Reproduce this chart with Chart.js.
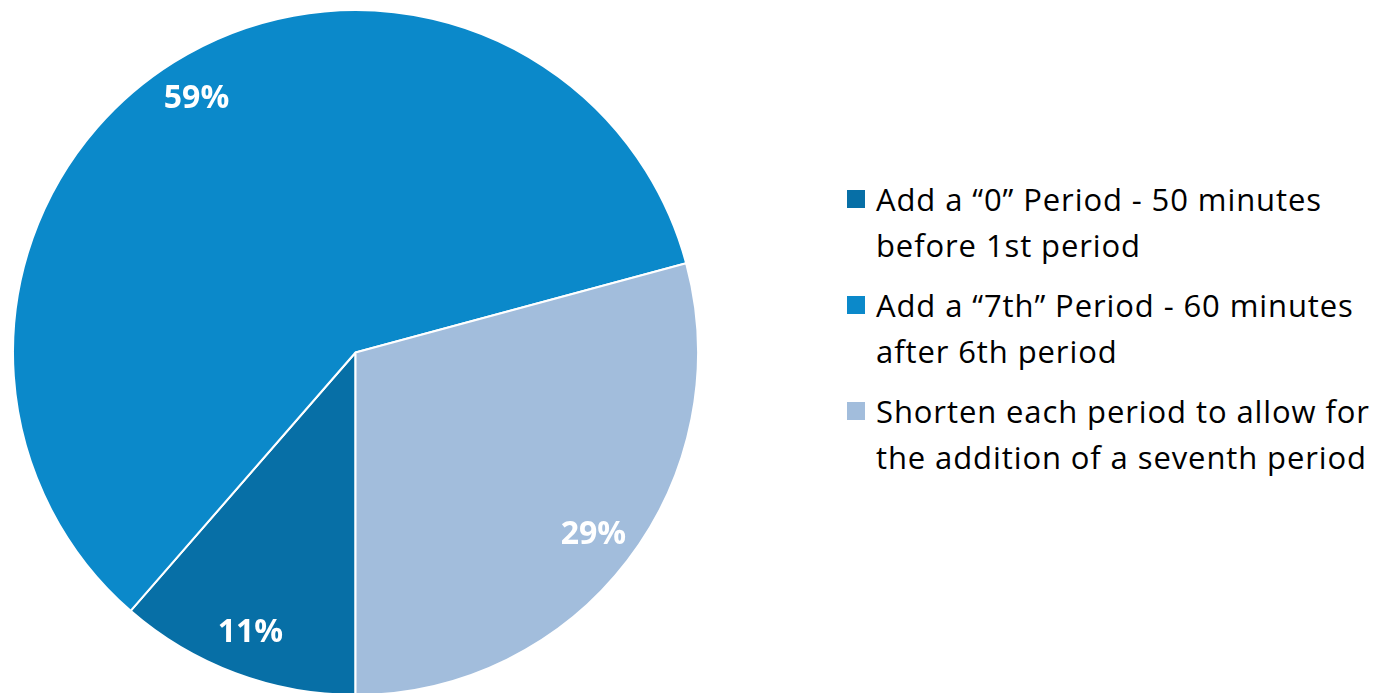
<!DOCTYPE html>
<html>
<head>
<meta charset="utf-8">
<script src="https://cdn.jsdelivr.net/npm/chart.js@4"></script>
<style>
    html, body { margin: 0; padding: 0; background: #fff; overflow: hidden; width: 1373px; height: 693px; }
    #pieBox { position: absolute; left: 12px; top: 9px; width: 687px; height: 687px; }
    #legend { position: absolute; left: 847px; top: 176px; font-family: "Open Sans", sans-serif; font-size: 31px; letter-spacing: 0.9px; color: #000; }
    .leg-item { position: relative; padding-left: 29px; line-height: 46px; margin-bottom: 14px; white-space: nowrap; }
    .leg-box { position: absolute; left: 0; top: 14px; width: 18px; height: 18px; }
</style>
</head>
<body>
<div id="pieBox"><canvas id="pieChart"></canvas></div>
<div id="legend"></div>
<script>
// data
const LABELS = [
    ['Add a \u201c0\u201d Period - 50 minutes', 'before 1st period'],
    ['Add a \u201c7th\u201d Period - 60 minutes', 'after 6th period'],
    ['Shorten each period to allow for', 'the addition of a seventh period']
];
const VALUES = [11.4, 59.4, 29.2];
const PCT_TEXT = ['11%', '59%', '29%'];
const COLORS = ['#076FA6', '#0B89CA', '#A2BDDC'];

// white % labels inside each slice
const sliceLabels = {
    id: 'sliceLabels',
    afterDatasetsDraw(chart) {
        const ctx = chart.ctx;
        const arcs = chart.getDatasetMeta(0).data;
        ctx.save();
        ctx.fillStyle = '#fff';
        ctx.font = 'bold 32px "Open Sans", sans-serif';
        ctx.textAlign = 'center';
        ctx.textBaseline = 'middle';
        arcs.forEach((arc, i) => {
            const p = arc.getProps(['x', 'y', 'startAngle', 'endAngle', 'outerRadius'], true);
            const mid = (p.startAngle + p.endAngle) / 2;
            const r = p.outerRadius * 0.875;
            ctx.fillText(PCT_TEXT[i], p.x + Math.cos(mid) * r, p.y + Math.sin(mid) * r);
        });
        ctx.restore();
    }
};

new Chart(document.getElementById('pieChart'), {
    type: 'pie',
    data: {
        labels: LABELS.map(l => l.join(' ')),
        datasets: [{
            data: VALUES,
            backgroundColor: COLORS,
            borderColor: '#fff',
            borderWidth: 2
        }]
    },
    options: {
        responsive: true,
        maintainAspectRatio: false,
        animation: false,
        rotation: 180,
        layout: { padding: 0 },
        plugins: {
            legend: { display: false },
            tooltip: { enabled: false }
        }
    },
    plugins: [sliceLabels]
});

// legend as html so the text can wrap like the original
const legendEl = document.getElementById('legend');
LABELS.forEach((lines, i) => {
    const item = document.createElement('div');
    item.className = 'leg-item';
    item.innerHTML = `<span class="leg-box" style="background:${COLORS[i]}"></span>${lines.join('<br>')}`;
    legendEl.appendChild(item);
});
</script>
</body>
</html>
